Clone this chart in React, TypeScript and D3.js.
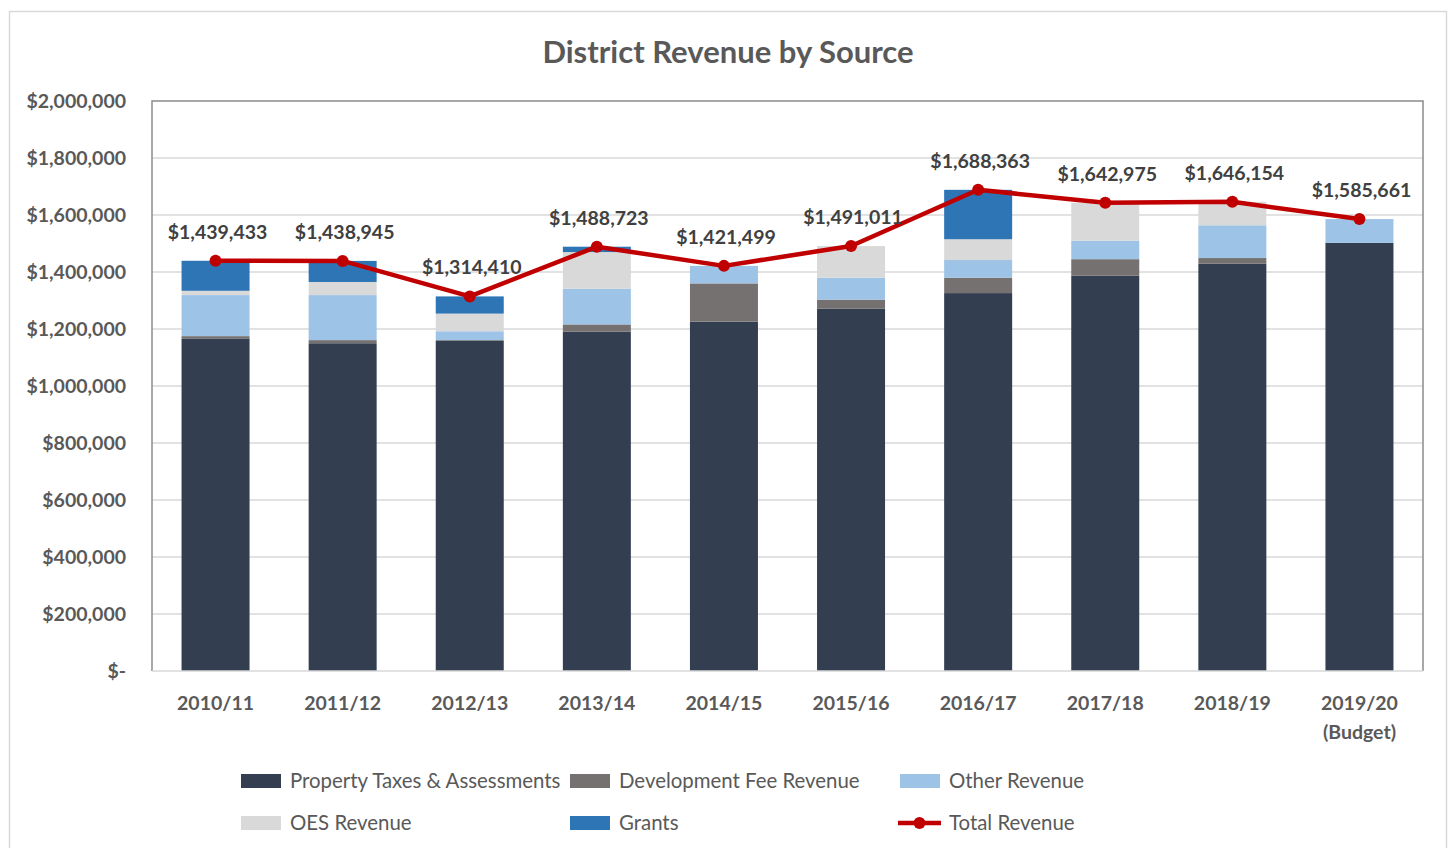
import { useEffect, useRef } from 'react';
import * as d3 from 'd3';

// Fiscal years (x categories)
const years = ['2010/11', '2011/12', '2012/13', '2013/14', '2014/15', '2015/16', '2016/17', '2017/18', '2018/19', '2019/20'];
const yearSub = ['', '', '', '', '', '', '', '', '', '(Budget)'];

// Stacked revenue segments
const propertyTaxes = [1167000, 1150000, 1158000, 1191000, 1226000, 1271000, 1326000, 1387000, 1429000, 1502000];
const developmentFees = [8000, 11000, 3000, 25000, 134000, 32000, 54000, 58000, 20000, 0];
const otherRevenue = [144000, 158000, 31000, 125000, 61499, 77000, 62000, 65000, 115000, 83661];
const oesRevenue = [15000, 46000, 62000, 129000, 0, 111011, 73000, 132975, 82154, 0];
const grants = [105433, 73945, 60410, 18723, 0, 0, 173363, 0, 0, 0];

// Total revenue line
const totalRevenue = [1439433, 1438945, 1314410, 1488723, 1421499, 1491011, 1688363, 1642975, 1646154, 1585661];

const yTicks = [0, 200000, 400000, 600000, 800000, 1000000, 1200000, 1400000, 1600000, 1800000, 2000000];

const seriesKeys = ['pt', 'dev', 'other', 'oes', 'grants'];
const seriesNames = ['Property Taxes & Assessments', 'Development Fee Revenue', 'Other Revenue', 'OES Revenue', 'Grants'];
const seriesColors = ['#333F50', '#767171', '#9DC3E6', '#D9D9D9', '#2E75B6'];
const lineColor = '#C00000';

const FONT = 'Lato, "Noto Sans", sans-serif';

export default function App() {
  const svgRef = useRef<SVGSVGElement>(null);
  const width = 1452;
  const height = 848;
  const plot = { left: 152, right: 1423, top: 101, bottom: 671 };

  useEffect(() => {
    if (!svgRef.current) return;
    const svg = d3.select(svgRef.current);
    svg.selectAll('*').remove();

    const x = d3.scaleBand<string>()
      .domain(years)
      .range([plot.left, plot.right])
      .paddingInner(0.465)
      .paddingOuter(0.2325);

    const y = d3.scaleLinear()
      .domain([0, 2000000])
      .range([plot.bottom, plot.top]);

    // outer frame
    svg.append('rect')
      .attr('x', 9.5).attr('y', 11.5)
      .attr('width', 1437).attr('height', 860)
      .attr('fill', '#fff')
      .attr('stroke', '#D9D9D9')
      .attr('stroke-width', 1.5);

    // title
    svg.append('text')
      .attr('x', 728).attr('y', 63)
      .attr('text-anchor', 'middle')
      .style('font-family', FONT)
      .style('font-size', '31px')
      .style('font-weight', 'bold')
      .style('fill', '#595959')
      .text('District Revenue by Source');

    // gridlines
    svg.append('g')
      .selectAll('line')
      .data(yTicks.slice(1, -1))
      .join('line')
      .attr('x1', plot.left).attr('x2', plot.right)
      .attr('y1', d => y(d)).attr('y2', d => y(d))
      .attr('stroke', '#D9D9D9')
      .attr('stroke-width', 1.5);

    // y axis labels
    const yAxis = d3.axisLeft(y)
      .tickValues(yTicks)
      .tickSize(0)
      .tickPadding(26)
      .tickFormat(d => (+d === 0 ? '$-' : '$' + d3.format(',')(+d)));

    const ya = svg.append('g')
      .attr('transform', `translate(${plot.left},0)`)
      .call(yAxis);
    ya.select('.domain').remove();
    ya.selectAll('text')
      .style('font-family', FONT)
      .style('font-size', '19.5px')
      .style('font-weight', 'bold')
      .style('fill', '#595959');

    // stacked bars
    const rows = years.map((yr, i) => ({
      year: yr,
      pt: propertyTaxes[i],
      dev: developmentFees[i],
      other: otherRevenue[i],
      oes: oesRevenue[i],
      grants: grants[i],
    }));
    const stacked = d3.stack<any>().keys(seriesKeys)(rows);

    stacked.forEach((layer, li) => {
      svg.append('g')
        .selectAll('rect')
        .data(layer)
        .join('rect')
        .attr('x', d => x(d.data.year) ?? 0)
        .attr('width', x.bandwidth())
        .attr('y', d => y(d[1]))
        .attr('height', d => Math.max(0, y(d[0]) - y(d[1])))
        .attr('fill', seriesColors[li]);
    });

    // plot border
    svg.append('path')
      .attr('d', `M${plot.left},${plot.bottom}V${plot.top}H${plot.right}V${plot.bottom}`)
      .attr('fill', 'none')
      .attr('stroke', '#8C8C8C')
      .attr('stroke-width', 1.5);
    svg.append('line')
      .attr('x1', plot.left).attr('x2', plot.right)
      .attr('y1', plot.bottom).attr('y2', plot.bottom)
      .attr('stroke', '#D9D9D9')
      .attr('stroke-width', 1.5);

    // x labels
    const cx = (yr: string) => (x(yr) ?? 0) + x.bandwidth() / 2;
    const xl = svg.append('g');
    years.forEach((yr, i) => {
      xl.append('text')
        .attr('x', cx(yr))
        .attr('y', 710)
        .attr('text-anchor', 'middle')
        .style('font-family', FONT)
        .style('font-size', '19.5px')
        .style('font-weight', 'bold')
        .style('fill', '#595959')
        .text(yr);
      if (yearSub[i]) {
        xl.append('text')
          .attr('x', cx(yr))
          .attr('y', 739)
          .attr('text-anchor', 'middle')
          .style('font-family', FONT)
          .style('font-size', '19.5px')
          .style('font-weight', 'bold')
          .style('fill', '#595959')
          .text(yearSub[i]);
      }
    });

    // total revenue line
    const line = d3.line<number>()
      .x((_, i) => cx(years[i]))
      .y(d => y(d));

    svg.append('path')
      .datum(totalRevenue)
      .attr('d', line)
      .attr('fill', 'none')
      .attr('stroke', lineColor)
      .attr('stroke-width', 4.5)
      .attr('stroke-linejoin', 'round');

    svg.append('g')
      .selectAll('circle')
      .data(totalRevenue)
      .join('circle')
      .attr('cx', (_, i) => cx(years[i]))
      .attr('cy', d => y(d))
      .attr('r', 6)
      .attr('fill', lineColor);

    svg.append('g')
      .selectAll('text')
      .data(totalRevenue)
      .join('text')
      .attr('x', (_, i) => cx(years[i]) + 2)
      .attr('y', d => y(d) - 22)
      .attr('text-anchor', 'middle')
      .style('font-family', FONT)
      .style('font-size', '19.5px')
      .style('font-weight', 'bold')
      .style('fill', '#404040')
      .text(d => '$' + d3.format(',')(d));

    // legend
    const legendPos = [
      { x: 241, y: 781 }, { x: 570, y: 781 }, { x: 900, y: 781 },
      { x: 241, y: 823 }, { x: 570, y: 823 },
    ];
    const lg = svg.append('g');
    seriesNames.forEach((name, i) => {
      const p = legendPos[i];
      lg.append('rect')
        .attr('x', p.x).attr('y', p.y - 7)
        .attr('width', 40).attr('height', 14)
        .attr('fill', seriesColors[i]);
      lg.append('text')
        .attr('x', p.x + 49).attr('y', p.y + 7)
        .style('font-family', FONT)
        .style('font-size', '20.4px')
        .style('fill', '#595959')
        .text(name);
    });
    lg.append('line')
      .attr('x1', 898).attr('x2', 941)
      .attr('y1', 823).attr('y2', 823)
      .attr('stroke', lineColor)
      .attr('stroke-width', 4.5);
    lg.append('circle')
      .attr('cx', 919.5).attr('cy', 823).attr('r', 6)
      .attr('fill', lineColor);
    lg.append('text')
      .attr('x', 949).attr('y', 830)
      .style('font-family', FONT)
      .style('font-size', '20.4px')
      .style('fill', '#595959')
      .text('Total Revenue');
  }, []);

  return (
    <svg
      ref={svgRef}
      width={width}
      height={height}
      viewBox={`0 0 ${width} ${height}`}
      style={{ position: 'absolute', left: 0, top: 0, display: 'block' }}
    />
  );
}
